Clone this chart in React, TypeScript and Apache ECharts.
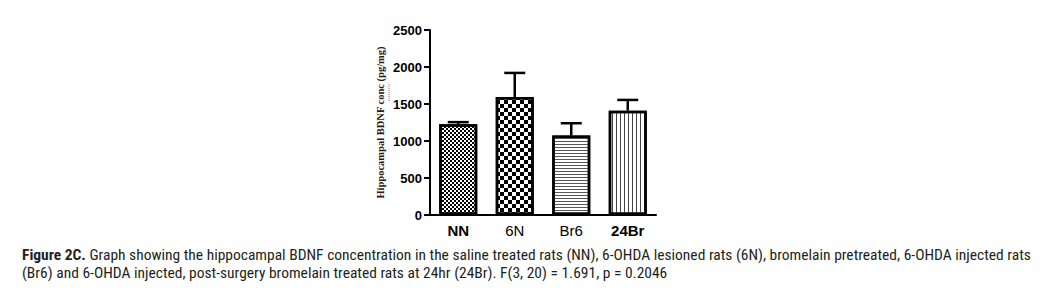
import React, { useEffect, useRef } from "react";
import * as echarts from "echarts";

const categories = ["NN", "6N", "Br6", "24Br"];
const means = [1225, 1595, 1075, 1410];
const sems = [30, 325, 165, 145];
const boldLabels = [true, false, false, true];
const yTicks = { min: 0, max: 2500, interval: 500 };
const captionLine1Bold = "Figure 2C.";
const captionLine1 =
  " Graph showing the hippocampal BDNF concentration in the saline treated rats (NN), 6-OHDA lesioned rats (6N), bromelain pretreated, 6-OHDA injected rats";
const captionLine2 =
  "(Br6) and 6-OHDA injected, post-surgery bromelain treated rats at 24hr (24Br). F(3, 20) = 1.691, p = 0.2046";
const yAxisName = "Hippocampal BDNF conc (pg/mg)";

const decals: any[] = [
  { symbol: "rect", symbolSize: 1, color: "#000", dashArrayX: [[2, 2], [0, 2, 2, 0]], dashArrayY: [2, 0] },
  { symbol: "rect", symbolSize: 1, color: "#000", dashArrayX: [[4, 4], [0, 4, 4, 0]], dashArrayY: [4, 0] },
  { symbol: "rect", symbolSize: 1, color: "#555", dashArrayX: [1, 0], dashArrayY: [1, 2] },
  { symbol: "rect", symbolSize: 1, color: "#444", dashArrayX: [1, 3], dashArrayY: [1, 0] },
];

const captionFont = '"Liberation Sans Narrow", "Roboto Condensed", "Arial Narrow", Roboto, sans-serif';
const axisFont = "Arial, Liberation Sans, sans-serif";

export default function App() {
  const ref = useRef<HTMLDivElement>(null);
  useEffect(() => {
    if (!ref.current) return;
    const chart = echarts.init(ref.current, undefined, { renderer: "svg" });
    const option: any = {
      animation: false,
      backgroundColor: "#fff",
      grid: { left: 430, top: 30, width: 226, height: 185, containLabel: false },
      xAxis: {
        type: "category",
        data: categories,
        axisLine: { lineStyle: { color: "#000", width: 2 } },
        axisTick: { alignWithLabel: true, length: 5, lineStyle: { color: "#000", width: 2 } },
        axisLabel: {
          interval: 0,
          margin: 8,
          color: "#000",
          fontFamily: axisFont,
          fontSize: 15,
          formatter: (v: string, i: number) => (boldLabels[i] ? `{b|${v}}` : `{n|${v}}`),
          rich: {
            b: { fontWeight: "bold", fontSize: 15, color: "#000", fontFamily: axisFont },
            n: { fontWeight: "normal", fontSize: 15, color: "#000", fontFamily: axisFont },
          },
        },
      },
      yAxis: {
        type: "value",
        min: yTicks.min,
        max: yTicks.max,
        interval: yTicks.interval,
        splitLine: { show: false },
        axisLine: { show: true, lineStyle: { color: "#000", width: 2 } },
        axisTick: { show: true, length: 6, lineStyle: { color: "#000", width: 2 } },
        axisLabel: {
          margin: 8,
          color: "#000",
          fontWeight: "bold",
          fontSize: 13,
          fontFamily: axisFont,
          formatter: (v: number) => String(v),
        },
        name: yAxisName,
        nameLocation: "middle",
        nameGap: 44,
        nameRotate: 90,
        nameTextStyle: {
          fontFamily: '"Liberation Serif", "Times New Roman", serif',
          fontWeight: "bold",
          fontSize: 10.5,
          color: "#2a1818",
        },
      },
      series: [
        {
          type: "bar",
          data: means.map((v, i) => ({
            value: v,
            itemStyle: { color: "#fff", borderColor: "#000", borderWidth: 2.5, decal: decals[i] },
          })),
          barWidth: 38,
        },
        {
          type: "custom",
          data: means.map((v, i) => [i, v, v + sems[i]]),
          renderItem: (params: any, api: any) => {
            const i = api.value(0);
            const lo = api.coord([i, api.value(1)]);
            const hi = api.coord([i, api.value(2)]);
            const half = 10.5;
            return {
              type: "group",
              children: [
                { type: "line", shape: { x1: lo[0], y1: lo[1], x2: hi[0], y2: hi[1] }, style: { stroke: "#000", lineWidth: 2.5 } },
                { type: "line", shape: { x1: hi[0] - half, y1: hi[1], x2: hi[0] + half, y2: hi[1] }, style: { stroke: "#000", lineWidth: 2.5 } },
              ],
            };
          },
          z: 5,
        },
      ],
      graphic: [
        {
          type: "line",
          shape: { x1: 389, y1: 84, x2: 389, y2: 102 },
          style: { stroke: "#c0392b", lineWidth: 0.8, lineDash: [1, 1] },
        },
        {
          type: "text",
          left: 22,
          top: 247,
          style: {
            text: `{b|${captionLine1Bold}}{n|${captionLine1}}`,
            rich: {
              b: { fontFamily: captionFont, fontSize: 15.5, fontWeight: "bold", fill: "#231f20" },
              n: { fontFamily: captionFont, fontSize: 15.5, fill: "#231f20" },
            },
          },
        },
        {
          type: "text",
          left: 22,
          top: 265,
          style: { text: captionLine2, fontFamily: captionFont, fontSize: 15.5, fill: "#231f20" },
        },
      ],
    };
    chart.setOption(option);
    return () => chart.dispose();
  }, []);
  return <div ref={ref} style={{ position: "absolute", left: 0, top: 0, width: 1051, height: 296 }} />;
}
